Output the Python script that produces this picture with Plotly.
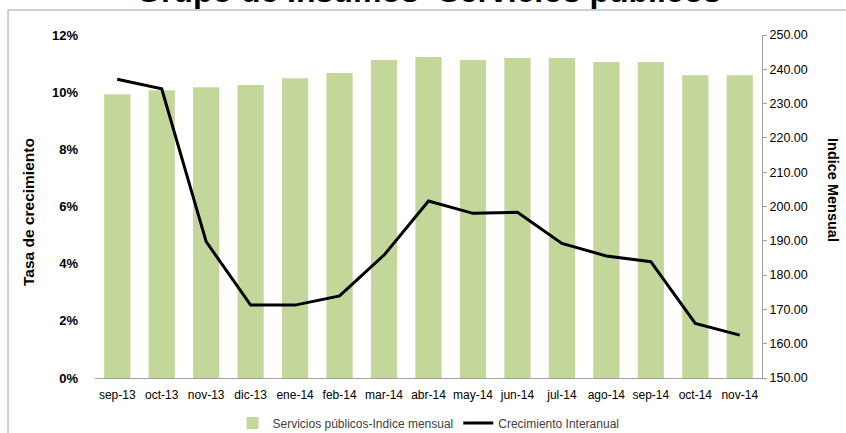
import plotly.graph_objects as go

months = ["sep-13", "oct-13", "nov-13", "dic-13", "ene-14", "feb-14", "mar-14", "abr-14",
          "may-14", "jun-14", "jul-14", "ago-14", "sep-14", "oct-14", "nov-14"]
indice_mensual = [232.7, 233.9, 234.8, 235.4, 237.4, 238.9, 242.7, 243.6,
                  242.7, 243.3, 243.3, 242.1, 242.1, 238.3, 238.3]
crecimiento = [0.1045, 0.1012, 0.0477, 0.0255, 0.0255, 0.0287, 0.0430, 0.0619,
               0.0576, 0.0580, 0.0471, 0.0427, 0.0407, 0.0191, 0.0150]

FONT = "Liberation Sans"

fig = go.Figure()
fig.add_trace(go.Bar(
    x=months, y=indice_mensual, name="Servicios públicos-Indice mensual",
    marker=dict(color="#C4D79B", line=dict(width=0)), yaxis="y"))
fig.add_trace(go.Scatter(
    x=months, y=crecimiento, name="Crecimiento Interanual", mode="lines",
    line=dict(color="black", width=3), yaxis="y2"))

fig.update_layout(
    width=846, height=433,
    margin=dict(l=95, r=84, t=35, b=55, autoexpand=False),
    paper_bgcolor="white", plot_bgcolor="white",
    font=dict(family=FONT, color="black"),
    bargap=0.41,
    showlegend=True,
    legend=dict(orientation="h", x=0.5, xanchor="center", xref="paper",
                y=1 - 423 / 433, yref="container", yanchor="middle",
                font=dict(size=12, color="#404040"), traceorder="normal"),
    xaxis=dict(showgrid=False, showline=True, linecolor="#A0A0A0", linewidth=1,
               ticks="", tickfont=dict(size=12, color="black"),
               ticklabelstandoff=6, range=[-0.5, 14.5]),
    yaxis=dict(side="right", range=[150, 250], dtick=10, tickformat=".2f",
               showgrid=False, zeroline=False, showline=True, linecolor="#A0A0A0",
               linewidth=1, ticks="outside", ticklen=4, tickcolor="#A0A0A0",
               tickfont=dict(size=12.5, color="black")),
    yaxis2=dict(side="left", overlaying="y", range=[0, 0.12], dtick=0.02,
                tickformat=".0%", showgrid=False, zeroline=False, showline=False,
                ticks="", ticklabelstandoff=16,
                tickfont=dict(size=13, color="black", weight="bold")),
    annotations=[
        dict(text="Grupo de Insumos -Servicios públicos", xref="paper", yref="paper",
             x=(428 - 95) / 667, y=(378 + 9.5) / 343, xanchor="center", yanchor="middle",
             showarrow=False,
             font=dict(size=32, family=FONT, weight="bold", color="black")),
        dict(text="Tasa de crecimiento", xref="paper", yref="paper",
             x=(28 - 95) / 667, y=(378 - 212) / 343, xanchor="center", yanchor="middle",
             textangle=-90, showarrow=False,
             font=dict(size=15.5, family=FONT, weight="bold", color="black")),
        dict(text="Indice Mensual", xref="paper", yref="paper",
             x=(833 - 95) / 667, y=(378 - 190) / 343, xanchor="center", yanchor="middle",
             textangle=90, showarrow=False,
             font=dict(size=14.5, family=FONT, weight="bold", color="black")),
    ],
    shapes=[
        dict(type="rect", xref="paper", yref="paper",
             x0=(8 - 95) / 667, x1=(860 - 95) / 667,
             y0=(378 - 450) / 343, y1=(378 - 10) / 343,
             line=dict(color="#A0A0A0", width=1), fillcolor="rgba(0,0,0,0)", layer="below"),
    ],
)

fig.write_html("out.html", config={"displayModeBar": False},
               post_script="document.body.style.margin='0';document.body.style.overflow='hidden';")
